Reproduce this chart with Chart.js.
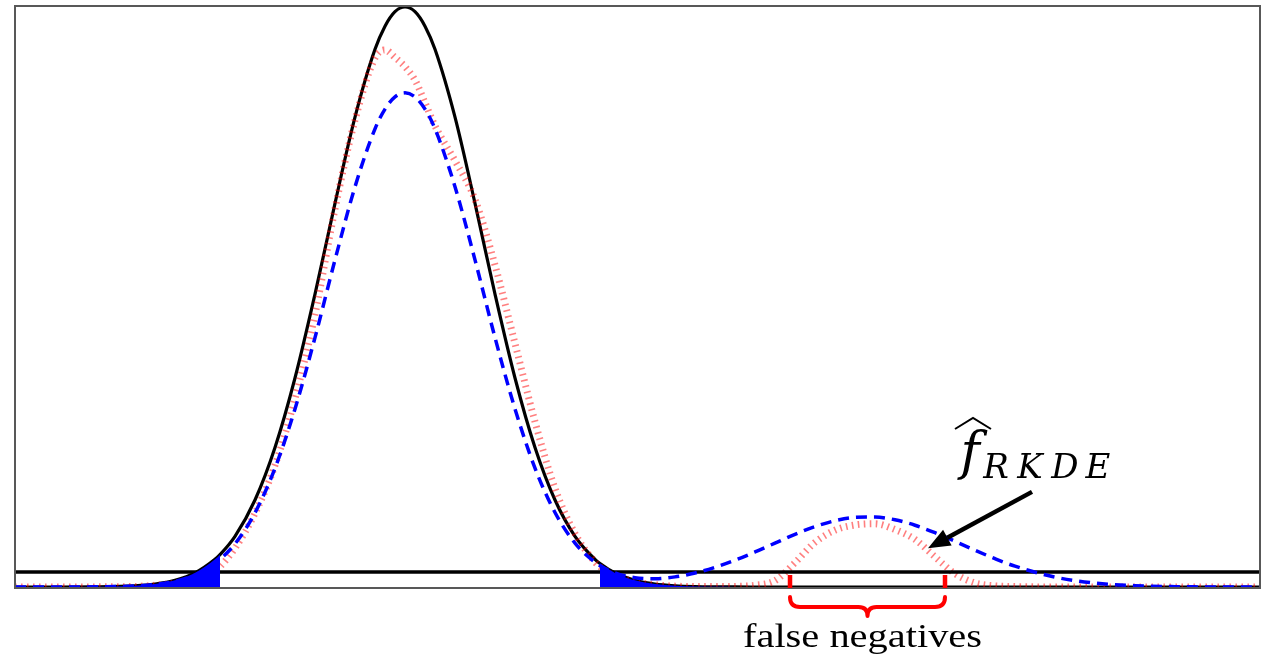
<!DOCTYPE html>
<html>
<head>
<meta charset="utf-8">
<script src="https://cdn.jsdelivr.net/npm/chart.js@4/dist/chart.umd.min.js"></script>
<style>
  html, body { margin: 0; padding: 0; background: #ffffff; }
  #wrap { width: 1269px; height: 660px; }
</style>
</head>
<body>
<div id="wrap"><canvas id="c" width="1269" height="660"></canvas></div>
<script>
// Sample positions along the horizontal axis
const xs = [0, 4, 8, 12, 14, 16, 18, 20, 20.5, 22, 24, 26, 28, 30, 32, 34, 36, 37, 38, 39, 40, 41, 42,
            44, 46, 48, 50, 52, 54, 56, 58, 58.5, 60, 62, 64, 66, 68, 70, 72, 74, 76, 78, 80, 82, 84,
            86, 88, 90, 92, 94, 96, 98, 100, 104, 108, 112, 116, 120, 124.5];

// True density (solid black)
const trueDensity = [0, 0, 0.0003, 0.0021, 0.0051, 0.0116, 0.0243, 0.0477, 0.0558, 0.0874, 0.150, 0.2405,
                     0.3604, 0.505, 0.6615, 0.810, 0.927, 0.967, 0.992, 1.0, 0.992, 0.967, 0.927,
                     0.810, 0.6615, 0.505, 0.3604, 0.2405, 0.150, 0.0874, 0.0477, 0.0405, 0.0243, 0.0116,
                     0.0051, 0.0021, 0.0008, 0.0003, 0.0001, 0, 0, 0, 0, 0, 0,
                     0, 0, 0, 0, 0, 0, 0, 0, 0, 0, 0, 0, 0, 0];

// Robust KDE estimate (red dotted)
const robustKde = [0, 0, 0.0002, 0.001, 0.003, 0.007, 0.015, 0.028, 0.035, 0.067, 0.127, 0.21,
                   0.325, 0.47, 0.652, 0.805, 0.912, 0.926, 0.913, 0.897, 0.874, 0.835, 0.795,
                   0.735, 0.668, 0.555, 0.42, 0.285, 0.17, 0.092, 0.043, 0.035, 0.02, 0.009,
                   0.004, 0.0015, 0.0008, 0.0008, 0.001, 0.003, 0.011, 0.042, 0.077, 0.098, 0.107,
                   0.109, 0.099, 0.082, 0.052, 0.023, 0.007, 0.002, 0.0008, 0, 0, 0, 0, 0, 0];

// Plain KDE estimate (blue dashed)
const plainKde = [0, 0, 0.0003, 0.0018, 0.0043, 0.0099, 0.0207, 0.0406, 0.0475, 0.0745, 0.128, 0.205,
                  0.307, 0.430, 0.564, 0.690, 0.790, 0.824, 0.845, 0.852, 0.845, 0.824, 0.790,
                  0.690, 0.564, 0.430, 0.307, 0.205, 0.1285, 0.0756, 0.0426, 0.0368, 0.0243, 0.0160,
                  0.0143, 0.0175, 0.0242, 0.0339, 0.0462, 0.0604, 0.0757, 0.0908, 0.1041, 0.1143, 0.1200,
                  0.1206, 0.1159, 0.1065, 0.0936, 0.0788, 0.0634, 0.0488, 0.0359, 0.0171, 0.0068, 0.0023, 0.0006, 0.0001, 0];

const threshold = 0.026;          // detection level (horizontal black line)
const tailLimits = [20.5, 58.5];  // shaded tails of the true density
const tailEnd = 74;
const braceRange = [77.5, 93];    // region bracketed below the axis
const arrowFrom = [101.7, 0.164];
const arrowTo = [91.3, 0.067];
const braceLabel = 'false negatives';
const estimatorName = 'f';
const estimatorSub = ['R', 'K', 'D', 'E'];

const toPoints = ys => xs.map((x, i) => ({ x: x, y: ys[i] }));
const truePts = toPoints(trueDensity);
const leftTail = truePts.filter(p => p.x <= tailLimits[0]);
const rightTail = truePts.filter(p => p.x >= tailLimits[1] && p.x <= tailEnd);

const serifItalic = '"DejaVu Serif", "Liberation Serif", serif';

const decorations = {
  id: 'decorations',
  afterDraw(chart) {
    const { ctx, chartArea: a, scales: { x, y } } = chart;
    ctx.save();

    // plot frame
    ctx.strokeStyle = '#585858';
    ctx.lineWidth = 2;
    ctx.strokeRect(a.left, a.top, a.right - a.left, a.bottom - a.top);

    // bracket marking the missed region
    const xl = x.getPixelForValue(braceRange[0]);
    const xr = x.getPixelForValue(braceRange[1]);
    const yt = y.getPixelForValue(threshold);
    ctx.strokeStyle = '#ff0000';
    ctx.lineWidth = 4.5;
    ctx.lineCap = 'butt';
    ctx.beginPath();
    ctx.moveTo(xl, yt + 3); ctx.lineTo(xl, a.bottom);
    ctx.moveTo(xr, yt + 3); ctx.lineTo(xr, a.bottom);
    ctx.stroke();

    const y0 = a.bottom + 9, y1 = a.bottom + 19, tip = a.bottom + 28;
    const xm = (xl + xr) / 2;
    ctx.lineWidth = 4;
    ctx.lineCap = 'round';
    ctx.lineJoin = 'round';
    ctx.beginPath();
    ctx.moveTo(xl, y0);
    ctx.quadraticCurveTo(xl, y1, xl + 10, y1);
    ctx.lineTo(xm - 9, y1);
    ctx.quadraticCurveTo(xm, y1, xm, tip);
    ctx.quadraticCurveTo(xm, y1, xm + 9, y1);
    ctx.lineTo(xr - 10, y1);
    ctx.quadraticCurveTo(xr, y1, xr, y0);
    ctx.stroke();

    // bracket caption
    ctx.fillStyle = '#000';
    ctx.font = '34px "Liberation Serif", serif';
    ctx.textBaseline = 'alphabetic';
    ctx.textAlign = 'center';
    const w = ctx.measureText(braceLabel).width;
    ctx.save();
    ctx.translate(xm - 5, 647);
    ctx.scale(239 / w, 1);
    ctx.fillText(braceLabel, 0, 0);
    ctx.restore();

    // estimator name with hat and subscript
    ctx.textAlign = 'center';
    ctx.font = 'italic 52px ' + serifItalic;
    ctx.fillText(estimatorName, 970, 469);
    ctx.strokeStyle = '#000';
    ctx.lineWidth = 2;
    ctx.lineCap = 'butt';
    ctx.lineJoin = 'miter';
    ctx.beginPath();
    ctx.moveTo(955, 429);
    ctx.lineTo(973, 418);
    ctx.lineTo(991, 429);
    ctx.stroke();
    ctx.font = 'italic 34px ' + serifItalic;
    const subX = [996, 1030, 1065, 1098];
    estimatorSub.forEach((ch, i) => ctx.fillText(ch, subX[i], 478));

    // arrow pointing at the robust estimate
    const ax0 = x.getPixelForValue(arrowFrom[0]), ay0 = y.getPixelForValue(arrowFrom[1]);
    const ax1 = x.getPixelForValue(arrowTo[0]), ay1 = y.getPixelForValue(arrowTo[1]);
    const ang = Math.atan2(ay1 - ay0, ax1 - ax0);
    const headLen = 22, headHalf = 9;
    const bx = ax1 - headLen * Math.cos(ang), by = ay1 - headLen * Math.sin(ang);
    ctx.lineWidth = 4.5;
    ctx.beginPath();
    ctx.moveTo(ax0, ay0);
    ctx.lineTo(bx, by);
    ctx.stroke();
    ctx.beginPath();
    ctx.moveTo(ax1, ay1);
    ctx.lineTo(bx + headHalf * Math.sin(ang), by - headHalf * Math.cos(ang));
    ctx.lineTo(bx - headHalf * Math.sin(ang), by + headHalf * Math.cos(ang));
    ctx.closePath();
    ctx.fill();

    ctx.restore();
  }
};

const lineBase = { pointRadius: 0, fill: false, cubicInterpolationMode: 'monotone', tension: 0 };

new Chart(document.getElementById('c'), {
  type: 'line',
  data: {
    datasets: [
      Object.assign({}, lineBase, {
        label: 'true density', data: truePts,
        borderColor: '#000000', borderWidth: 3.2, order: 6
      }),
      Object.assign({}, lineBase, {
        label: 'robust KDE', data: toPoints(robustKde),
        borderColor: 'rgba(255,0,0,0.5)', borderWidth: 7, borderDash: [1.6, 4.4],
        borderCapStyle: 'butt', order: 5
      }),
      Object.assign({}, lineBase, {
        label: 'threshold', data: [{ x: xs[0], y: threshold }, { x: xs[xs.length - 1], y: threshold }],
        borderColor: '#000000', borderWidth: 3.5, order: 4
      }),
      Object.assign({}, lineBase, {
        label: 'left tail', data: leftTail, fill: 'origin',
        backgroundColor: '#0000ff', borderColor: 'rgba(0,0,0,0)', borderWidth: 0, order: 3
      }),
      Object.assign({}, lineBase, {
        label: 'right tail', data: rightTail, fill: 'origin',
        backgroundColor: '#0000ff', borderColor: 'rgba(0,0,0,0)', borderWidth: 0, order: 3
      }),
      Object.assign({}, lineBase, {
        label: 'KDE', data: toPoints(plainKde),
        borderColor: '#0000ff', borderWidth: 3.5, borderDash: [11, 7], order: 1
      })
    ]
  },
  options: {
    responsive: false,
    animation: false,
    events: [],
    layout: { padding: { left: 15, top: 6, right: 9, bottom: 72 } },
    scales: {
      x: { type: 'linear', min: 0, max: 124.5, display: false },
      y: { type: 'linear', min: -0.0017, max: 1.0017, display: false }
    },
    plugins: { legend: { display: false }, tooltip: { enabled: false } }
  },
  plugins: [decorations]
});
</script>
</body>
</html>
